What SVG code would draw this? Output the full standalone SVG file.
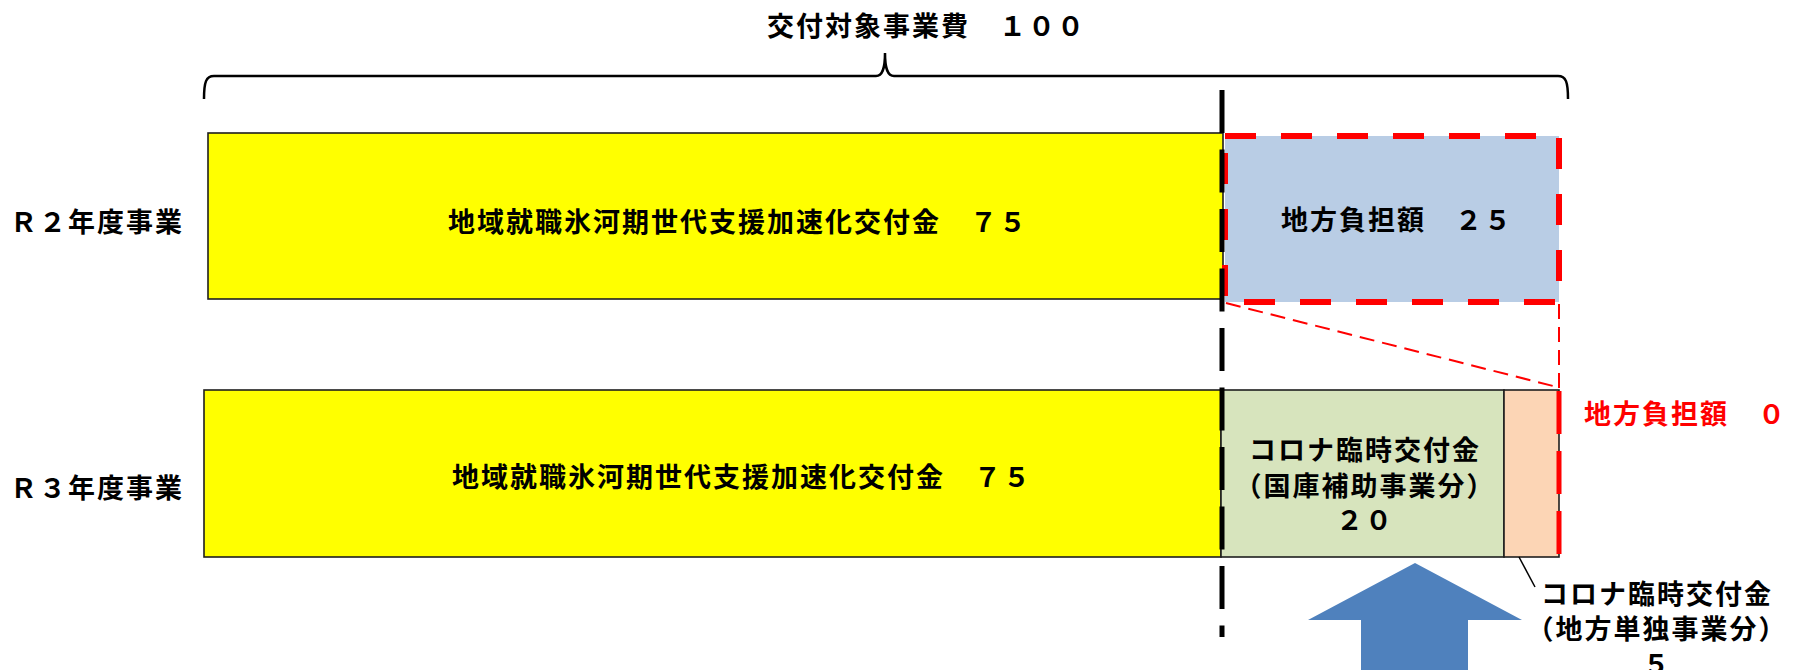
<svg xmlns="http://www.w3.org/2000/svg" width="1800" height="670" viewBox="0 0 1800 670">
<style>
text{font-family:"Noto Sans CJK JP","Noto Sans",sans-serif;font-weight:bold;font-size:27px;letter-spacing:2px;fill:#000;dominant-baseline:central}
.red{fill:#FF0000}
.mid{text-anchor:middle}
.box{stroke:#1f1f1f;stroke-width:1.6}
</style>
<rect width="1800" height="670" fill="#fff"/>
<g id="title">
<text x="767" y="24">交付対象事業費　１００</text>
<path d="M204,99 C204,82 206,76 214,76 L876,76 C882,76 885,70 885,53 C885,70 888,76 894,76 L1558,76 C1566,76 1568,82 1568,99" fill="none" stroke="#000" stroke-width="2.5"/>
</g>
<g id="label-r2"><text x="10" y="220">Ｒ２年度事業</text></g>
<g id="label-r3"><text x="10" y="486">Ｒ３年度事業</text></g>
<g id="r2-grant">
<rect class="box" x="208" y="133" width="1015" height="166" fill="#FFFF00"/>
<text x="448" y="220">地域就職氷河期世代支援加速化交付金　７５</text>
</g>
<g id="r2-local">
<rect x="1225" y="136" width="334" height="166" fill="#B9CDE5" stroke="#FF0000" stroke-width="6" stroke-dasharray="31 25"/>
<text x="1281" y="218">地方負担額　２５</text>
</g>
<g id="r3-grant">
<rect class="box" x="204" y="390" width="1017" height="167" fill="#FFFF00"/>
<text x="452" y="475">地域就職氷河期世代支援加速化交付金　７５</text>
</g>
<g id="r3-corona-national">
<rect class="box" x="1221" y="390" width="283" height="167" fill="#D7E4BD"/>
<text class="mid" x="1365" y="448">コロナ臨時交付金</text>
<text class="mid" x="1365" y="484">（国庫補助事業分）</text>
<text class="mid" x="1365" y="518">２０</text>
</g>
<g id="r3-corona-local">
<rect class="box" x="1504" y="390" width="55" height="167" fill="#FCD5B5"/>
</g>
<g id="label-local-zero"><text class="red" x="1584" y="412">地方負担額　０</text></g>
<g id="label-corona-local">
<text class="mid" x="1657" y="592">コロナ臨時交付金</text>
<text class="mid" x="1657" y="627">（地方単独事業分）</text>
<text class="mid" x="1657" y="662">５</text>
</g>
<g id="arrow">
<polygon points="1415,563 1522,620 1468,620 1468,672 1361,672 1361,620 1308,620" fill="#4F81BD"/>
</g>
<g id="connectors" fill="none">
<line x1="1222" y1="90" x2="1222" y2="637" stroke="#000" stroke-width="5" stroke-dasharray="43 16.5"/>
<line x1="1559" y1="391" x2="1559" y2="557" stroke="#FF0000" stroke-width="5" stroke-dasharray="43 17"/>
<line x1="1226" y1="303" x2="1557" y2="387" stroke="#FF0000" stroke-width="2" stroke-dasharray="15 8"/>
<line x1="1559" y1="304" x2="1559" y2="388" stroke="#FF0000" stroke-width="2" stroke-dasharray="15 8"/>
<line x1="1519" y1="557" x2="1535" y2="587" stroke="#000" stroke-width="1.5"/>
</g>
</svg>
